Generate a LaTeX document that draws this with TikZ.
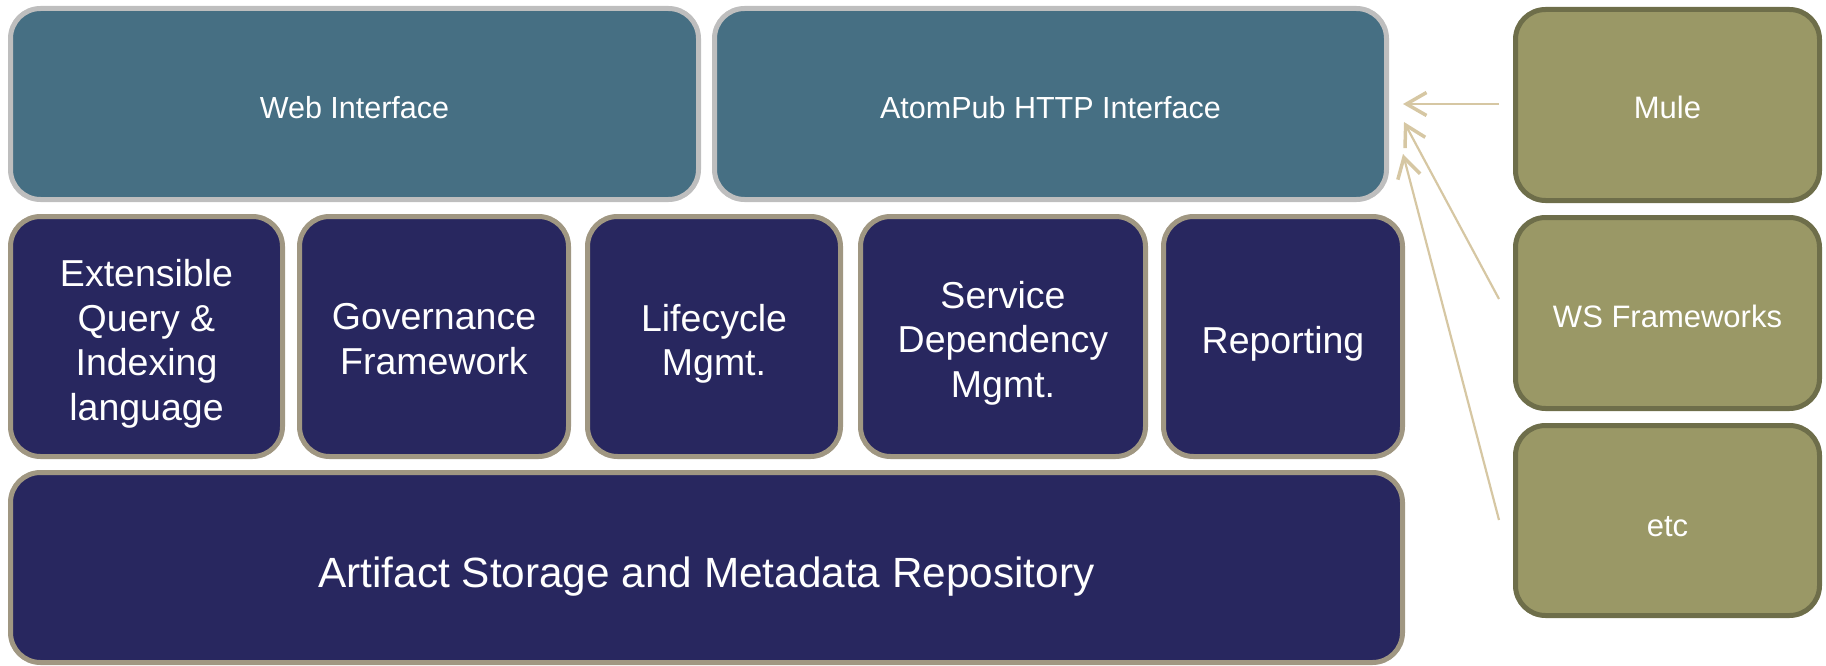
\documentclass[tikz,border=0pt]{standalone}
\usepackage{fontspec}
\setmainfont{Liberation Sans}
\usetikzlibrary{arrows.meta}
\definecolor{topfill}{HTML}{466F83}
\definecolor{topline}{HTML}{BEBEBE}
\definecolor{midfill}{HTML}{28275F}
\definecolor{midline}{HTML}{A09782}
\definecolor{olfill}{HTML}{9A9866}
\definecolor{olline}{HTML}{6E6E4A}
\definecolor{arrcol}{HTML}{D6C7A3}
\begin{document}
\begin{tikzpicture}[x=1pt,y=-1pt,
  basebox/.style={rounded corners=30pt, line width=5pt, inner sep=0pt},
  topbox/.style={basebox, fill=topfill, draw=topline, minimum height=191pt},
  midbox/.style={basebox, fill=midfill, draw=midline, minimum height=240pt},
  botbox/.style={basebox, fill=midfill, draw=midline, minimum height=190pt},
  olbox/.style={basebox, fill=olfill, draw=olline, minimum width=304pt, minimum height=191pt},
  txt/.style={text=white, align=center, inner sep=0pt},
  toptxt/.style={txt, font=\fontsize{30.5}{36}\selectfont},
  midtxt/.style={txt, font=\fontsize{37.5}{44.6}\selectfont},
  bottxt/.style={txt, font=\fontsize{42.3}{50}\selectfont},
  oltxt/.style={txt, font=\fontsize{31}{36}\selectfont},
  feed/.style={draw=arrcol, line width=2.2pt, -{Straight Barb[length=20pt,width=23pt,line width=3.5pt]}}
]
\useasboundingbox (0,0) rectangle (1826,666);
% top row
\node[topbox, minimum width=688pt, label={[toptxt,yshift=-3.5pt]center:Web Interface}] (web) at (354.5,104) {};
\node[topbox, minimum width=672pt, label={[toptxt,yshift=-3.5pt]center:AtomPub HTTP Interface}] (atom) at (1050.5,104) {};
% middle row
\node[midbox, minimum width=272pt, label={[midtxt,yshift=-7.5pt]center:{Extensible\\Query \&\\Indexing\\language}}] (query) at (146.5,336.5) {};
\node[midbox, minimum width=269pt, label={[midtxt,yshift=-2.5pt]center:{Governance\\Framework}}] (gov) at (434,336.5) {};
\node[midbox, minimum width=253pt, label={[midtxt,yshift=-7.5pt]center:{Lifecycle\\Mgmt.}}] (life) at (714,336.5) {};
\node[midbox, minimum width=285pt, label={[midtxt,yshift=-6.5pt]center:{Service\\Dependency\\Mgmt.}}] (dep) at (1003,336.5) {};
\node[midbox, minimum width=239pt, label={[midtxt,yshift=-7pt]center:Reporting}] (rep) at (1283,336.5) {};
% bottom
\node[botbox, minimum width=1392pt, label={[bottxt,yshift=-9pt]center:Artifact Storage and Metadata Repository}] (store) at (706.5,567.5) {};
% right column
\node[olbox, label={[oltxt,yshift=-2.5pt]center:Mule}] (mule) at (1667.5,105) {};
\node[olbox, label={[oltxt,yshift=-3.5pt]center:WS Frameworks}] (ws) at (1667.5,313) {};
\node[olbox, minimum height=190pt, label={[oltxt,yshift=-6pt]center:etc}] (etc) at (1667.5,520.5) {};
% connectors
\coordinate (t1) at (1403,104);
\coordinate (t2) at (1404,122);
\coordinate (t3) at (1403,154);
\coordinate (s1) at (1499,104);
\coordinate (s2) at (1499,299);
\coordinate (s3) at (1499,520);
\draw[feed] (s1) -- (t1);
\draw[feed] (s2) -- (t2);
\draw[feed] (s3) -- (t3);
\end{tikzpicture}
\end{document}
